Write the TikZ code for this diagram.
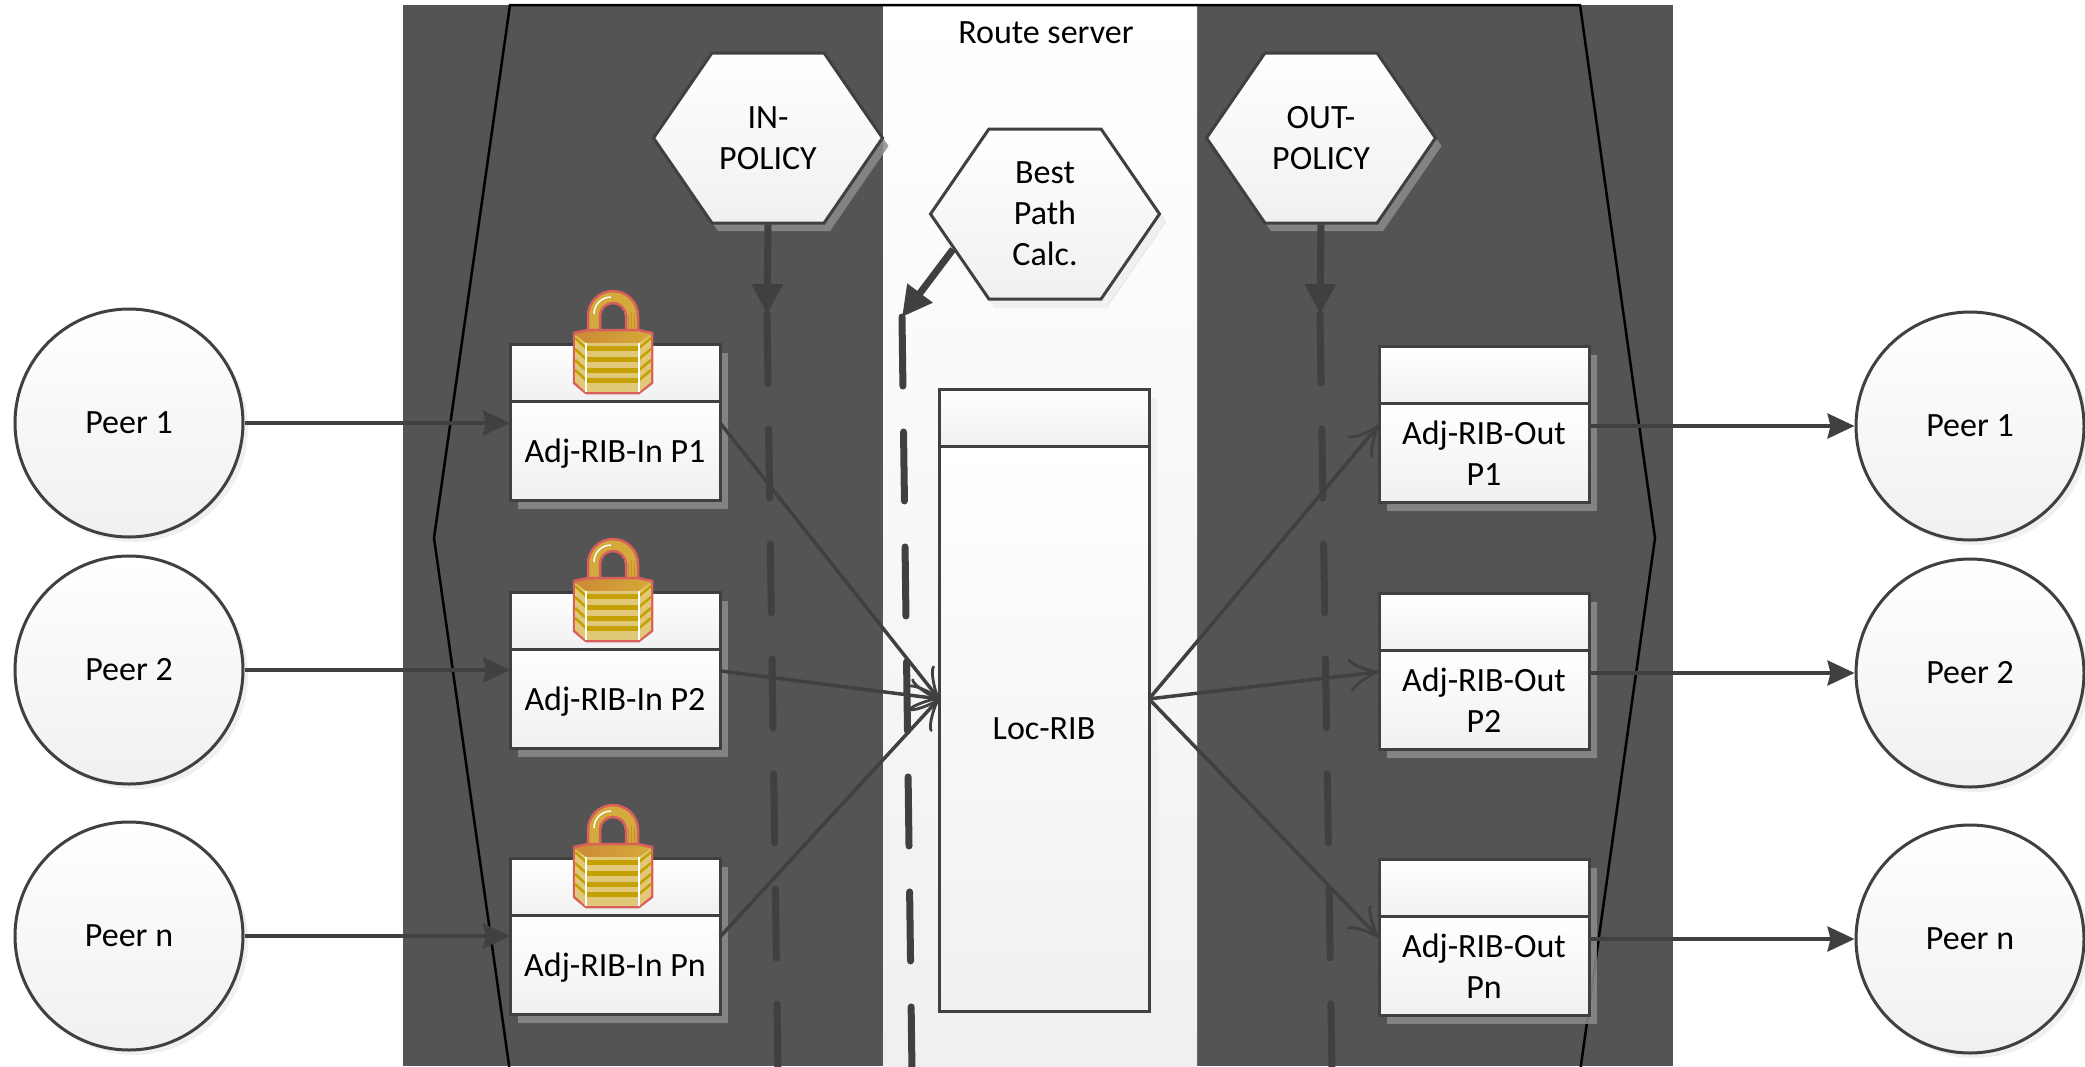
\documentclass[tikz,border=0pt]{standalone}
\usepackage{fontspec}
\setmainfont{Carlito}
\usetikzlibrary{arrows.meta, positioning, shapes.symbols, shadows}
\definecolor{rsdark}{RGB}{84,84,84}
\definecolor{rsline}{RGB}{64,64,64}
\definecolor{rsfade}{RGB}{240,240,240}
\definecolor{rsshadow}{RGB}{140,140,140}
\definecolor{lockred}{RGB}{217,96,90}
\definecolor{lockgold}{RGB}{212,170,60}
\definecolor{lockpale}{RGB}{224,200,120}
\definecolor{lockbar}{RGB}{196,160,0}
\definecolor{lockrust}{RGB}{205,138,52}

\tikzset{
    lockicon/.pic={
        \draw[lockred, line width=2.5pt, fill=lockgold, even odd rule]
            (-25,-8) -- (-25,-28) arc[start angle=180, end angle=360, radius=25] -- (25,-8) -- cycle
            (-13,-8) -- (-13,-28) arc[start angle=180, end angle=360, radius=13] -- (13,-8) -- cycle;
        \draw[white, line width=1.5pt] (-19,-30) arc[start angle=180, end angle=270, radius=17];
        \draw[lockrust, line width=1pt] (15,-10) -- (15,-30) (18,-10) -- (18,-32) (21,-10) -- (21,-30);
        \draw[lockred, line width=2.5pt, left color=lockrust, right color=lockgold]
            (-39,-11) -- (-25,-14) -- (25,-14) -- (39,-11) -- (39,39) -- (26,49) -- (-27,49) -- (-39,39) -- cycle;
        \fill[lockpale] (-27,-1) rectangle (26,48);
        \fill[lockpale] (-38,-9) -- (-27,-1) -- (-27,48) -- (-38,38) -- cycle;
        \fill[lockpale] (38,-9) -- (26,-1) -- (26,48) -- (38,38) -- cycle;
        \foreach \barY in {2,13,24,34}{
            \fill[lockbar] (-27,\barY) rectangle (26,\barY+5);
            \draw[lockbar, line width=2.5pt] (-38,\barY-8) -- (-27,\barY+2);
            \draw[lockbar, line width=2.5pt] (38,\barY-8) -- (26,\barY+2);
        }
        \draw[white, line width=2pt] (-27,-1) -- (-27,48) (26,-1) -- (26,48);
    },
}

\begin{document}
\begin{tikzpicture}[
    x=1pt, y=-1pt,
    peer/.style={circle, draw=rsline, line width=3pt, minimum size=228pt, top color=white, bottom color=rsfade,
                 font=\fontsize{34}{41}\selectfont, drop shadow={shadow xshift=5pt, shadow yshift=-5pt, fill=rsfade, opacity=1}},
    ribbody/.style={rectangle, draw=rsline, line width=3pt, minimum width=210pt, minimum height=99pt, inner sep=0pt,
                    outer sep=0pt, align=center, text depth=0pt, top color=white, bottom color=rsfade, font=\fontsize{34}{41}\selectfont,
                    drop shadow={shadow xshift=8pt, shadow yshift=-8pt, fill=rsshadow, opacity=.85}},
    ribhead/.style={ribbody, minimum height=57pt},
    locrib/.style={ribbody, minimum height=565pt, drop shadow={shadow xshift=8pt, shadow yshift=-8pt, fill=rsfade, opacity=1}},
    hexa/.style={signal, signal to=west and east, signal pointer angle=111, draw=rsline, line width=3pt,
                 minimum width=229pt, minimum height=170pt, inner sep=0pt, align=center, top color=white,
                 bottom color=rsfade, font=\fontsize{34}{41}\selectfont,
                 drop shadow={shadow xshift=6pt, shadow yshift=-8pt, fill=rsshadow, opacity=.85}},
    peerarr/.style={-{Stealth[length=27pt, width=25pt, inset=3pt]}, line width=3.5pt, rsline},
    ribarr/.style={-{Classical TikZ Rightarrow[length=30pt, width=34pt]}, line width=3.5pt, rsline},
    policy/.style={line width=7pt, rsline, line cap=round, dash pattern=on 69pt off 46pt},
    polarr/.style={-{Stealth[length=30pt, width=30pt, inset=0pt]}, line width=7pt, rsline},
]
    \clip (0,0) rectangle (2085,1066);
    \fill[white] (0,0) rectangle (2085,1066);
    \fill[rsdark] (403,5) rectangle (1673,1066);
    \shade[top color=white, bottom color=rsfade] (883,6) rectangle (1197,1066);
    \draw[black, line width=2.5pt] (510,5) -- (1580,5) -- (1655,538) -- (1580,1072) -- (510,1072) -- (434,538) -- cycle;
    \node[font=\fontsize{34}{41}\selectfont] (rsname) at (1046,33) {Route server};

    \node[hexa] (inpol) at (768,138) {IN-\\POLICY};
    \node[hexa] (outpol) at (1321,138) {OUT-\\POLICY};
    \node[hexa, drop shadow={shadow xshift=6pt, shadow yshift=-8pt, fill=rsfade, opacity=1}] (best) at (1045,214) {Best\\Path\\Calc.};

    \coordinate (intop) at (767,314);
    \coordinate (inend) at (778,1072);
    \coordinate (outtop) at (1320,314);
    \coordinate (outend) at (1332,1072);
    \coordinate (besttop) at (902,317);
    \coordinate (bestend) at (912,1072);

    \draw[policy] (intop) -- (inend);
    \draw[policy] (outtop) -- (outend);
    \draw[policy] (besttop) -- (bestend);
    \draw[polarr] (inpol.south) -- (intop);
    \draw[polarr] (outpol.south) -- (outtop);
    \draw[polarr] (best.201) -- (besttop);

    \node[peer] (lpeer1) at (129,423) {Peer 1};
    \node[peer] (lpeer2) at (129,670) {Peer 2};
    \node[peer] (lpeern) at (129,936) {Peer n};
    \node[peer] (rpeer1) at (1970,426) {Peer 1};
    \node[peer] (rpeer2) at (1970,673) {Peer 2};
    \node[peer] (rpeern) at (1970,939) {Peer n};

    \node[ribhead] (in1head) at (615,373) {};
    \node[ribbody, below=0pt of in1head] (in1) {Adj-RIB-In P1};
    \node[ribhead] (in2head) at (615,621) {};
    \node[ribbody, below=0pt of in2head] (in2) {Adj-RIB-In P2};
    \node[ribhead] (innhead) at (615,887) {};
    \node[ribbody, below=0pt of innhead] (inn) {Adj-RIB-In Pn};

    \node[ribhead] (out1head) at (1484,375) {};
    \node[ribbody, below=0pt of out1head] (out1) {Adj-RIB-Out\\P1};
    \node[ribhead] (out2head) at (1484,622) {};
    \node[ribbody, below=0pt of out2head] (out2) {Adj-RIB-Out\\P2};
    \node[ribhead] (outnhead) at (1484,888) {};
    \node[ribbody, below=0pt of outnhead] (outn) {Adj-RIB-Out\\Pn};

    \node[ribhead, drop shadow={shadow xshift=8pt, shadow yshift=-8pt, fill=rsfade, opacity=1}] (lochead) at (1044,418) {};
    \node[locrib, below=0pt of lochead] (loc) {Loc-RIB};

    \pic at (613,344) {lockicon};
    \pic at (613,592) {lockicon};
    \pic at (613,858) {lockicon};

    \draw[peerarr] (lpeer1.east) -- (lpeer1.east -| in1.west);
    \draw[peerarr] (lpeer2.east) -- (lpeer2.east -| in2.west);
    \draw[peerarr] (lpeern.east) -- (lpeern.east -| inn.west);
    \draw[peerarr] (rpeer1.west -| out1.east) -- (rpeer1.west);
    \draw[peerarr] (rpeer2.west -| out2.east) -- (rpeer2.west);
    \draw[peerarr] (rpeern.west -| outn.east) -- (rpeern.west);

    \draw[ribarr] (in1.15) -- (loc.164);
    \draw[ribarr] (in2.15) -- (loc.164);
    \draw[ribarr] (inn.15) -- (loc.164);
    \draw[ribarr] (loc.16) -- (out1.165);
    \draw[ribarr] (loc.16) -- (out2.165);
    \draw[ribarr] (loc.16) -- (outn.165);
\end{tikzpicture}
\end{document}
